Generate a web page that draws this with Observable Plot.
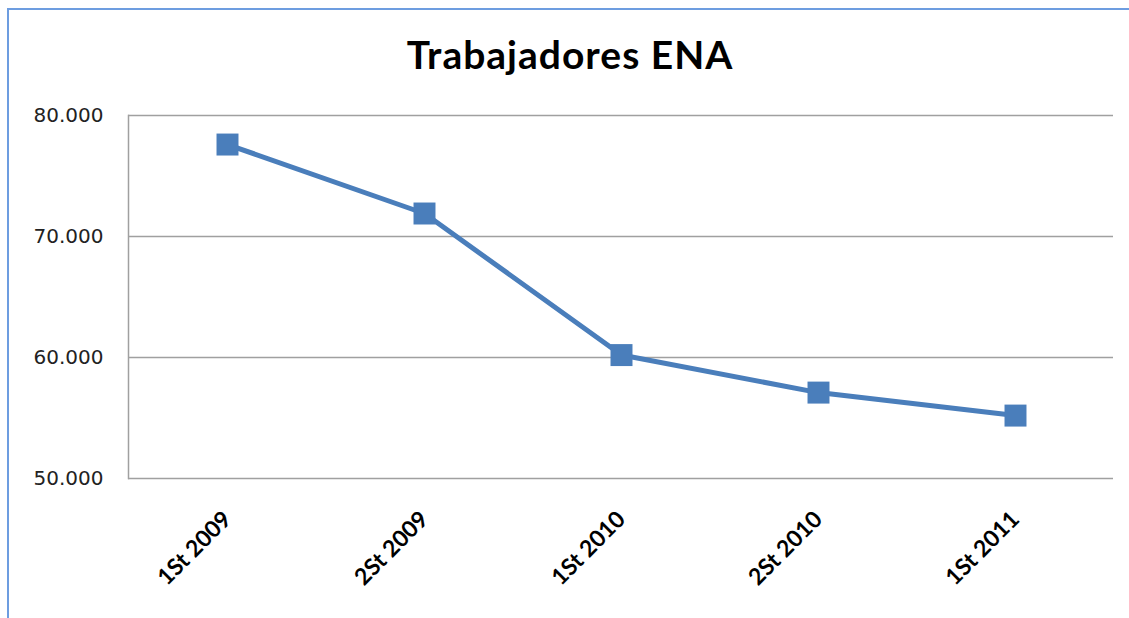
<!DOCTYPE html>
<html>
<head>
<meta charset="utf-8">
<script src="https://cdn.jsdelivr.net/npm/d3@7"></script>
<script src="https://cdn.jsdelivr.net/npm/@observablehq/plot@0.6"></script>
<style>
  html, body { margin: 0; padding: 0; background: #fff; }
  #wrap { position: relative; width: 1129px; height: 618px; overflow: hidden; background: #fff; }
  #border { position: absolute; left: 7px; top: 8px; width: 1200px; height: 700px;
            border-left: 2px solid #6d9de0; border-top: 2px solid #6d9de0; }
  #title { position: absolute; left: 0; top: 31px; width: 1140px; text-align: center;
           font-family: Lato, sans-serif; font-weight: bold; font-size: 39px; letter-spacing: 1px; color: #000; }
  #chart { position: absolute; left: 0; top: 0; }
</style>
</head>
<body>
<div id="wrap">
  <div id="border"></div>
  <div id="chart"></div>
  <div id="title">Trabajadores ENA</div>
</div>
<script>
const categories = ["1St 2009", "2St 2009", "1St 2010", "2St 2010", "1St 2011"];
const trabajadores = [77600, 71900, 60200, 57100, 55200];
const yTicks = [50000, 60000, 70000, 80000];

const data = categories.map((c, i) => ({cat: c, value: trabajadores[i]}));
const fmt = v => d3.format(",")(v).replace(/,/g, ".");

const chart = Plot.plot({
  width: 1129,
  height: 618,
  marginTop: 115,
  marginBottom: 140,
  marginLeft: 128,
  marginRight: 16,
  style: {background: "transparent", overflow: "visible"},
  x: {type: "point", domain: categories, padding: 0.5},
  y: {domain: [50000, 80000]},
  marks: [
    Plot.ruleY(yTicks, {stroke: "#a0a0a0", strokeWidth: 1.5}),
    Plot.frame({anchor: "left", stroke: "#a0a0a0", strokeWidth: 1.5}),
    Plot.axisY({ticks: yTicks, tickSize: 0, tickPadding: 25, tickFormat: fmt,
      fontSize: 20, fontFamily: "DejaVu Sans", fill: "#222", label: null}),
    Plot.axisX({tickSize: 0, tickPadding: 37, tickRotate: -45,
      fontSize: 23, fontFamily: "Lato", fontWeight: "bold", fill: "#000", label: null}),
    Plot.line(data, {x: "cat", y: "value", stroke: "#4a7ebb", strokeWidth: 5}),
    Plot.dot(data, {x: "cat", y: "value", symbol: "square", r: 12.4, fill: "#4a7ebb", stroke: "none"})
  ]
});
document.getElementById("chart").appendChild(chart);
</script>
</body>
</html>
